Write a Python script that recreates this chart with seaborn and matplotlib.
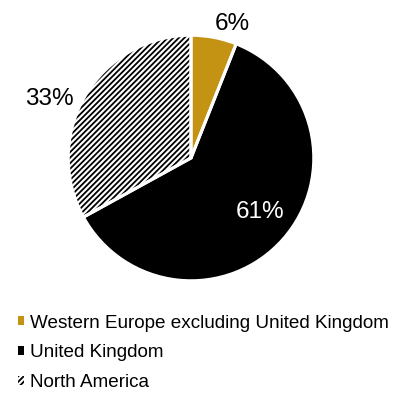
import matplotlib
matplotlib.use("Agg")
import matplotlib.pyplot as plt
import seaborn as sns

categories = ["Western Europe excluding United Kingdom", "United Kingdom", "North America"]
values = [6, 61, 33]
pct_labels = ["6%", "61%", "33%"]

colors = ["#C59314", "#000000", "#FFFFFF"]
hatches = [None, None, "//////"]
label_colors = ["#000000", "#FFFFFF", "#000000"]
label_xy = [(0.34, 1.09), (0.56, -0.44), (-1.15, 0.48)]

sns.set_theme(style="white")
plt.rcParams["font.family"] = ["Liberation Sans", "DejaVu Sans"]
plt.rcParams["text.color"] = "black"
plt.rcParams["hatch.linewidth"] = 1.3
plt.rcParams["hatch.color"] = "black"

fig = plt.figure(figsize=(4.0, 3.97), dpi=100)
ax = fig.add_axes([67 / 400, (397 - 282) / 397, 248 / 400, 248 / 397])

wedges, _ = ax.pie(values, colors=colors, startangle=90, counterclock=False,
                   wedgeprops=dict(edgecolor="black", linewidth=0))
for w, h in zip(wedges, hatches):
    if h:
        w.set_hatch(h)
        w.set_edgecolor("black")
        w.set_linewidth(0)

# white separators on top
outline, _ = ax.pie(values, colors=colors, startangle=90, counterclock=False,
                    wedgeprops=dict(fill=False, edgecolor="white", linewidth=2.2))

ax.set_xlim(-1.01, 1.01)
ax.set_ylim(-1.01, 1.01)
ax.set_aspect("equal")

for txt, (x, y), c in zip(pct_labels, label_xy, label_colors):
    ax.text(x, y, txt, ha="center", va="center", fontsize=17.5, color=c)

leg = fig.legend(wedges, categories, loc="upper left",
                 bbox_to_anchor=(10 / 400, 1 - 307 / 397),
                 frameon=False, fontsize=13.6, handlelength=0.33, handleheight=0.33,
                 handletextpad=0.35, labelspacing=0.68, borderaxespad=0)
for t in leg.get_texts():
    t.set_color("black")
fig.savefig("out.png", dpi=100)
